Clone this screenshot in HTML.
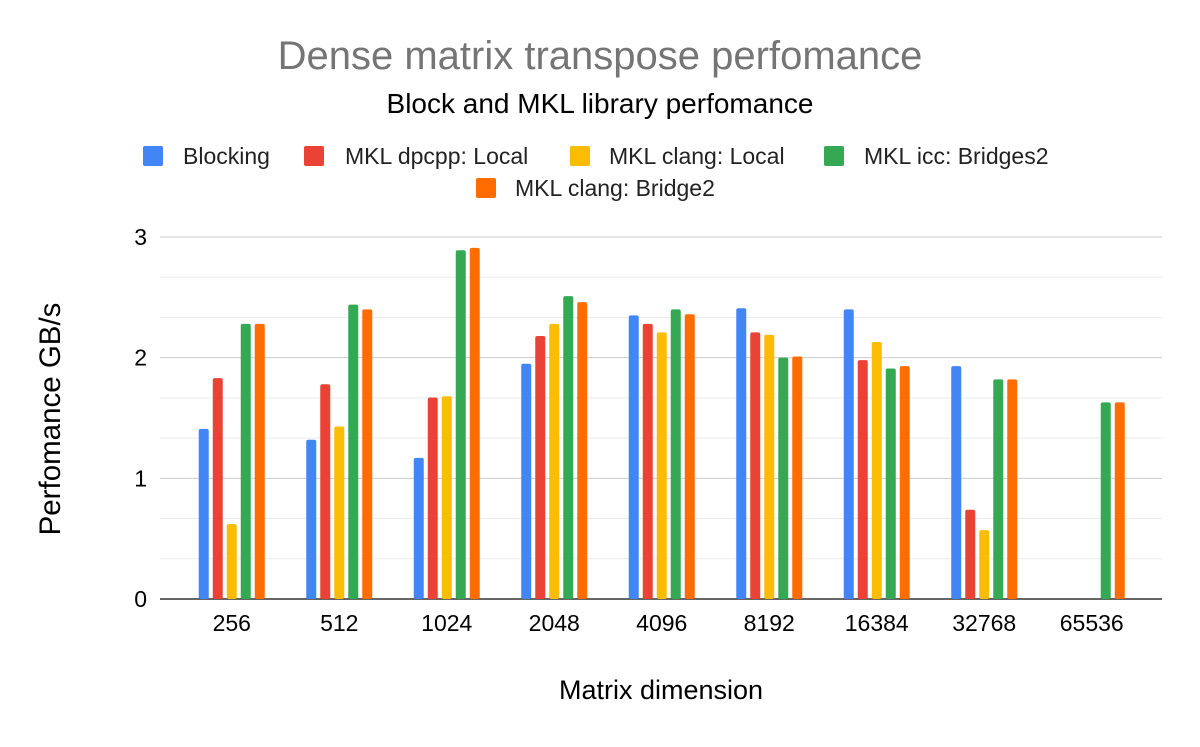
<!DOCTYPE html>
<html><head><meta charset="utf-8"><style>
body{margin:0;background:#fff;font-family:"Liberation Sans",Arial,sans-serif}
</style></head><body>
<svg id="chart" width="1200" height="742" xmlns="http://www.w3.org/2000/svg">
<rect width="1200" height="742" fill="#fff"/>
<text x="600" y="69" text-anchor="middle" font-size="40" fill="#757575">Dense matrix transpose perfomance</text>
<text x="600" y="113" text-anchor="middle" font-size="28" fill="#000">Block and MKL library perfomance</text>
<g id="grid"></g><g id="bars"></g><g id="axes"></g><g id="legend"></g>
<text x="661" y="699" text-anchor="middle" font-size="27" fill="#000">Matrix dimension</text>
<text transform="translate(60,419) rotate(-90)" text-anchor="middle" font-size="29.5" fill="#000">Perfomance GB/s</text>
</svg>
<script>
const categories=["256","512","1024","2048","4096","8192","16384","32768","65536"];
const seriesNames=["Blocking","MKL dpcpp: Local","MKL clang: Local","MKL icc: Bridges2","MKL clang: Bridge2"];
const blocking=[1.41,1.32,1.17,1.95,2.35,2.41,2.40,1.93,null];
const dpcppLocal=[1.83,1.78,1.67,2.18,2.28,2.21,1.98,0.74,null];
const clangLocal=[0.62,1.43,1.68,2.28,2.21,2.19,2.13,0.57,null];
const iccBridges2=[2.28,2.44,2.89,2.51,2.40,2.00,1.91,1.82,1.63];
const clangBridge2=[2.28,2.40,2.91,2.46,2.36,2.01,1.93,1.82,1.63];
const yTicks=[0,1,2,3];
const colors=["#4285f4","#ea4335","#fbbc04","#34a853","#ff6d01"];
const series=[blocking,dpcppLocal,clangLocal,iccBridges2,clangBridge2];
const NS="http://www.w3.org/2000/svg";
const y0=599,y3=237,left=160,right=1162;
const yS=v=>y0-(v/3)*(y0-y3);
const bandL=178,band=107.5;
const xC=i=>bandL+band*(i+0.5);
function mk(t,a,p){const e=document.createElementNS(NS,t);for(const k in a)e.setAttribute(k,a[k]);p.appendChild(e);return e;}
const grid=document.getElementById('grid');
for(let k=1;k<=9;k++){if(k%3===0)continue;const l=mk('line',{x1:left,x2:right,y1:yS(k/3),y2:yS(k/3),stroke:'#ebebeb','stroke-width':1},grid);

}
yTicks.forEach(v=>{const l=mk('line',{x1:left,x2:right,y1:yS(v),y2:yS(v),stroke:v===0?'#333':'#ccc','stroke-width':v===0?1.5:1},grid);


const t=mk('text',{x:147,y:yS(v)+8,'text-anchor':'end','font-size':23,fill:'#000'},document.getElementById('axes'));t.textContent=v;

});
const bars=document.getElementById('bars');
categories.forEach((c,i)=>{
 series.forEach((s,j)=>{const v=s[i];if(v==null)return;
  const x=xC(i)+(j-2)*14-5;
  const r=mk('rect',{x:x,y:yS(v),width:10,height:y0-yS(v),fill:colors[j],rx:2},bars);
  
  });
 const t=mk('text',{x:xC(i),y:631,'text-anchor':'middle','font-size':23,fill:'#000'},document.getElementById('axes'));t.textContent=c;
 
 
});
const leg=document.getElementById('legend');
const lp=[[143,183,156],[304,345,156],[570,609,156],[824,864,156],[476,515,188]];
seriesNames.forEach((n,j)=>{const [sx,tx,cy]=lp[j];
 const r=mk('rect',{x:sx,y:cy-10,width:20,height:20,fill:colors[j],rx:2},leg);
 
 
 const t=mk('text',{x:tx,y:cy+8,'font-size':23,fill:'#222'},leg);t.textContent=n;
 
 });
</script>
</body></html>
